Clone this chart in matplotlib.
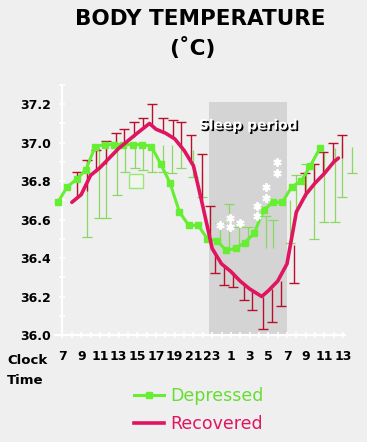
import matplotlib
matplotlib.use("Agg")
import matplotlib.pyplot as plt
import matplotlib.patheffects as pe
from matplotlib.lines import Line2D
from matplotlib.patches import Rectangle

# ---------------- data ----------------
dep_hours = [6.5, 7.5, 8.5, 9.5, 10.5, 11.5, 12.5, 13.5, 14.5, 15.5, 16.5, 17.5, 18.5, 19.5,
             20.5, 21.5, 22.5, 23.5, 24.5, 25.5, 26.5, 27.5, 28.5, 29.5, 30.5, 31.5, 32.5,
             33.5, 34.5]
dep_temp = [36.69, 36.77, 36.81, 36.86, 36.98, 36.99, 36.99, 36.99, 36.99, 36.99, 36.98,
            36.89, 36.79, 36.64, 36.57, 36.57, 36.50, 36.49, 36.44, 36.45, 36.48, 36.53,
            36.65, 36.69, 36.69, 36.77, 36.80, 36.88, 36.97]

# depressed error bars: position, lower end, upper end, which end has the cap
dep_bar_hours = [9.6, 10.85, 11.7, 12.8, 13.7, 14.7, 15.6, 16.6, 17.7, 18.7, 19.7, 20.9, 21.9,
                 23.8, 24.8, 25.9, 26.8, 28.8, 29.5,
                 31.3, 32.0, 33.0, 33.9, 35.0, 36.1, 36.9, 37.9]
dep_bar_low = [36.51, 36.61, 36.61, 36.73, 36.85, 36.87, 36.86, 36.85, 36.85, 36.84, 36.87, 36.82, 36.72,
               36.48, 36.44, 36.45, 36.47, 36.45, 36.45,
               36.48, 36.65, 36.72, 36.50, 36.59, 36.59, 36.72, 36.84]
dep_bar_high = [36.86, 36.98, 36.99, 36.99, 36.99, 36.99, 36.98, 36.97, 36.99, 36.99, 36.99, 36.96, 36.85,
                36.58, 36.68, 36.56, 36.56, 36.62, 36.60,
                36.70, 36.83, 36.89, 36.88, 36.95, 36.97, 37.00, 36.98]
dep_bar_cap = ["low"] * 13 + ["high"] * 6 + ["low", "high", "high", "low", "low", "low", "low", "low"]

dep_outlier_hour = [14.9]
dep_outlier_temp = [36.80]

rec_hours = [8, 9, 10, 11, 12, 13, 14, 15, 16.3, 17, 18, 19, 20, 21, 22, 23, 24, 25, 26, 27,
             28.3, 29, 30, 31, 32, 33, 34, 35, 36, 36.5]
rec_temp = [36.69, 36.73, 36.83, 36.87, 36.92, 36.97, 37.01, 37.05, 37.10, 37.07, 37.05, 37.02,
            36.96, 36.88, 36.67, 36.45, 36.37, 36.33, 36.28, 36.24, 36.20, 36.23, 36.28, 36.37,
            36.64, 36.73, 36.79, 36.84, 36.90, 36.92]

rec_bar_hours = [8.5, 9.6, 10.6, 11.6, 12.7, 13.6, 14.6, 15.6, 16.6, 17.7, 18.8, 19.7, 20.7, 21.9, 22.8,
                 23.3, 24.3, 25.2, 26.4, 27.3, 28.4, 29.4, 30.4, 31.8,
                 32.9, 33.9, 34.8, 35.9, 36.9]
rec_bar_base = [36.71, 36.75, 36.85, 36.89, 36.95, 36.99, 37.03, 37.07, 37.09, 37.05, 37.03, 36.97, 36.91, 36.70, 36.49,
                36.43, 36.36, 36.33, 36.27, 36.23, 36.20, 36.24, 36.28, 36.47,
                36.72, 36.79, 36.84, 36.89, 36.92]
rec_bar_cap = [36.85, 36.91, 36.96, 37.01, 37.05, 37.07, 37.11, 37.13, 37.20, 37.13, 37.12, 37.11, 37.04, 36.94, 36.67,
               36.32, 36.26, 36.25, 36.18, 36.13, 36.03, 36.07, 36.15, 36.27,
               36.84, 36.89, 36.95, 37.00, 37.04]

star_hours = [23.8, 24.86, 24.86, 25.93, 27.75, 27.75, 28.8, 28.8, 29.9, 29.9]
star_temp = [36.57, 36.61, 36.56, 36.58, 36.67, 36.62, 36.77, 36.71, 36.90, 36.84]

sleep_start, sleep_end, sleep_top = 22.7, 31.0, 37.21

xtick_hours = [7, 9, 11, 13, 15, 17, 19, 21, 23, 25, 27, 29, 31, 33, 35, 37]
xtick_labels = ["7", "9", "11", "13", "15", "17", "19", "21", "23", "1", "3", "5", "7", "9", "11", "13"]
ytick_vals = [36.0, 36.2, 36.4, 36.6, 36.8, 37.0, 37.2]
ytick_labels = ["36.0", "36.2", "36.4", "36.6", "36.8", "37.0", "37.2"]

# ---------------- style ----------------
BG = "#efefef"
GREEN = "#66ee33"
GREEN_TXT = "#66dd33"
GREEN_BAR = "#8ad860"
RED = "#e0155f"
RED_BAR = "#b8102c"

plt.rcParams["font.family"] = ["DejaVu Sans"]

fig = plt.figure(figsize=(3.67, 4.42), dpi=100, facecolor=BG)
ax = fig.add_axes([55 / 367, 1 - 335 / 442, 290 / 367, 250 / 442], facecolor=BG)
ax.set_xlim(6.2, 37.2)
ax.set_ylim(36.0, 37.3)

ax.add_patch(Rectangle((sleep_start, 36.0), sleep_end - sleep_start, sleep_top - 36.0,
                       facecolor="#d4d4d4", edgecolor="none", zorder=0))

# depressed error bars
ax.vlines(dep_bar_hours, dep_bar_low, dep_bar_high, colors=GREEN_BAR, linewidth=0.9, zorder=2,
          clip_on=False)
cap_vals = [lo if c == "low" else hi for lo, hi, c in zip(dep_bar_low, dep_bar_high, dep_bar_cap)]
ax.plot(dep_bar_hours, cap_vals, linestyle="none", marker="_", markersize=7, markeredgewidth=0.9,
        color=GREEN_BAR, zorder=2, clip_on=False)

# recovered error bars
ax.vlines(rec_bar_hours, rec_bar_base, rec_bar_cap, colors=RED_BAR, linewidth=1.0, zorder=3,
          clip_on=False)
ax.plot(rec_bar_hours, rec_bar_cap, linestyle="none", marker="_", markersize=7, markeredgewidth=1.0,
        color=RED_BAR, zorder=3, clip_on=False)

ax.plot(dep_hours, dep_temp, color=GREEN, linewidth=2.2, marker="s", markersize=5,
        markerfacecolor=GREEN, markeredgecolor=GREEN, zorder=4, clip_on=False)
ax.plot(dep_outlier_hour, dep_outlier_temp, linestyle="none", marker="s", markersize=9.5,
        markerfacecolor="#f2f7ee", markeredgecolor="#9be57a", markeredgewidth=1.0, zorder=4)
ax.plot(rec_hours, rec_temp, color=RED, linewidth=2.6, solid_capstyle="round",
        solid_joinstyle="round", zorder=5)

ax.plot(star_hours, star_temp, linestyle="none", marker=(6, 2, 0), markersize=6,
        markeredgewidth=1.4, color="white", zorder=6)

ax.text(26.85, 37.09, "Sleep period", color="white", fontsize=10, fontweight="bold",
        ha="center", va="center", zorder=7,
        path_effects=[pe.withSimplePatchShadow(offset=(1.2, -1.2), shadow_rgbFace="black",
                                               alpha=1.0)])

# axes styling
for s in ["top", "right"]:
    ax.spines[s].set_visible(False)
ax.spines["left"].set_position(("data", 6.95))
ax.spines["left"].set_color("white")
ax.spines["left"].set_linewidth(1.6)
ax.spines["bottom"].set_color("white")
ax.spines["bottom"].set_linewidth(1.6)

ax.set_xticks(xtick_hours)
ax.set_xticklabels(xtick_labels, fontsize=9, fontweight="bold")
ax.set_xticks(list(range(7, 38)), minor=True)
ax.set_yticks(ytick_vals)
ax.set_yticklabels(ytick_labels, fontsize=9, fontweight="bold")
ax.set_yticks([36.0 + 0.1 * i for i in range(14)], minor=True)
ax.tick_params(axis="both", which="both", color="white", direction="inout", length=4, width=1.2)
ax.tick_params(axis="x", which="major", pad=9)
ax.tick_params(axis="y", which="major", pad=6)

# titles and labels
fig.text(200 / 367, 1 - 19 / 442, "BODY TEMPERATURE", ha="center", va="center",
         fontsize=15.5, fontweight="bold", color="black")
fig.text(192 / 367, 1 - 48 / 442, "(˚C)", ha="center", va="center",
         fontsize=15.5, fontweight="bold", color="black")
fig.text(7 / 367, 1 - 361 / 442, "Clock", ha="left", va="center", fontsize=9.5, fontweight="bold")
fig.text(7 / 367, 1 - 381 / 442, "Time", ha="left", va="center", fontsize=9.5, fontweight="bold")

handles = [Line2D([], [], color=GREEN, linewidth=2.2, marker="s", markersize=5),
           Line2D([], [], color=RED, linewidth=2.6)]
leg = fig.legend(handles, ["Depressed", "Recovered"], loc="center",
                 bbox_to_anchor=(199 / 367, 1 - 410 / 442), frameon=False, fontsize=12.5,
                 handlelength=1.7, handletextpad=0.4, labelspacing=0.6)
for t, c in zip(leg.get_texts(), [GREEN_TXT, RED]):
    t.set_color(c)

fig.savefig("out.png", dpi=100, facecolor=BG)
